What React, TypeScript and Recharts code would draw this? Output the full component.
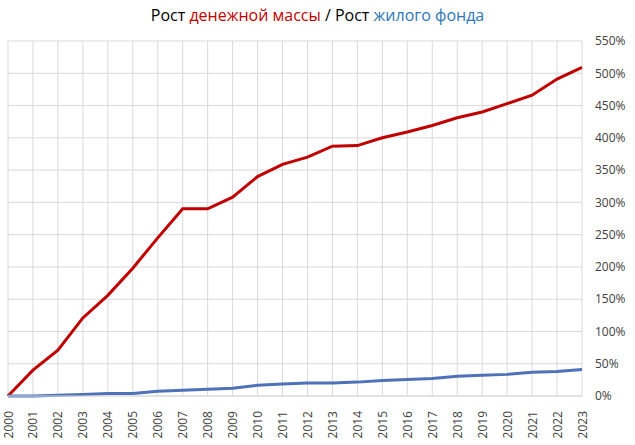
import { LineChart, Line, XAxis, YAxis, CartesianGrid } from 'recharts';

const years = [
  '2000', '2001', '2002', '2003', '2004', '2005', '2006', '2007', '2008', '2009', '2010', '2011',
  '2012', '2013', '2014', '2015', '2016', '2017', '2018', '2019', '2020', '2021', '2022', '2023',
];

// Рост денежной массы, %
const moneySupply = [
  0, 40, 71, 121, 156, 198, 245, 290, 290, 308, 340, 359,
  370, 387, 388, 400, 409, 419, 431, 440, 453, 466, 491, 509,
];

// Рост жилого фонда, %
const housing = [
  0, 0, 1, 2.5, 3.7, 4, 7.2, 9, 10.5, 12, 16.5, 18.5,
  20, 20, 21.5, 24, 25.5, 27, 30.5, 32, 33.5, 36.7, 38, 41,
];

const yTicks = [0, 50, 100, 150, 200, 250, 300, 350, 400, 450, 500, 550];

const data = years.map((year, i) => ({
  year,
  money: moneySupply[i],
  housing: housing[i],
}));

const font = '"Open Sans", "Noto Sans", sans-serif';

function YearTick({ x, y, payload }: any) {
  const ty = y + 7;
  return (
    <text
      x={x}
      y={ty}
      transform={`rotate(-90, ${x}, ${ty})`}
      textAnchor="end"
      dominantBaseline="central"
      fontSize={12}
      fontFamily={font}
      fill="#404040"
    >
      {payload.value}
    </text>
  );
}

export default function App() {
  return (
    <div style={{ position: 'absolute', left: 0, top: 0, width: 635, height: 445, background: '#fff' }}>
      <div
        style={{
          position: 'absolute',
          top: 4,
          left: 0,
          width: 635,
          textAlign: 'center',
          fontFamily: font,
          fontSize: 16,
          color: '#000',
          lineHeight: '22px',
        }}
      >
        Рост <span style={{ color: '#c00000' }}>денежной массы</span> / Рост{' '}
        <span style={{ color: '#2e75b6' }}>жилого фонда</span>
      </div>
      <LineChart
        width={635}
        height={445}
        data={data}
        margin={{ top: 41, right: 0, bottom: 0, left: 8 }}
      >
        <CartesianGrid stroke="#d9d9d9" strokeWidth={1} />
        <XAxis
          dataKey="year"
          interval={0}
          height={49}
          tick={<YearTick />}
          tickLine={false}
          axisLine={{ stroke: '#d9d9d9' }}
        />
        <YAxis
          orientation="right"
          domain={[0, 550]}
          ticks={yTicks}
          width={53}
          tickFormatter={(v) => `${v}%`}
          tick={{ fontSize: 12, fontFamily: font, fill: '#404040' }}
          tickLine={false}
          axisLine={false}
          tickSize={5}
          tickMargin={8}
        />
        <Line
          type="linear"
          dataKey="money"
          stroke="#c00000"
          strokeWidth={3}
          dot={false}
          isAnimationActive={false}
        />
        <Line
          type="linear"
          dataKey="housing"
          stroke="#4e72b8"
          strokeWidth={3}
          dot={false}
          isAnimationActive={false}
        />
      </LineChart>
    </div>
  );
}
